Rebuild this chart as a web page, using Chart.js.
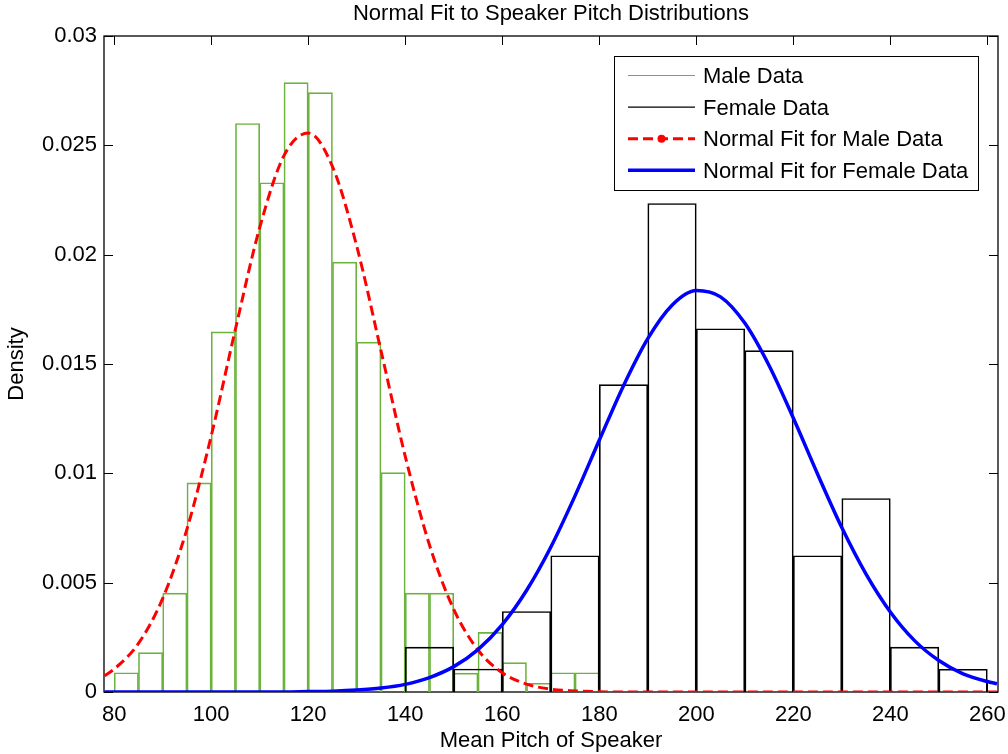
<!DOCTYPE html>
<html><head><meta charset="utf-8">
<script src="https://cdn.jsdelivr.net/npm/chart.js@4/dist/chart.umd.min.js"></script>
<style>html,body{margin:0;padding:0;background:#fff}#wrap{width:1008px;height:754px}</style>
</head><body><div id="wrap"><canvas id="c" width="1008" height="754"></canvas></div>
<script>
// ---- data ----
const maleBinStart = 80, maleBinWidth = 5;
const maleDensity = [0.00088, 0.0018, 0.00452, 0.00956, 0.01647, 0.0260, 0.02329, 0.02787, 0.02741, 0.01966,
                     0.0160, 0.01003, 0.00452, 0.00452, 0.00086, 0.00273, 0.00134, 0.0004, 0.00088, 0.00088];
const femaleBinStart = 140, femaleBinWidth = 10;
const femaleDensity = [0.00205, 0.00105, 0.00368, 0.00623, 0.01406, 0.02234, 0.01661, 0.01561, 0.00623, 0.00885, 0.00205, 0.00104];
const fitX = [78, 80, 85, 90, 95, 100, 105, 110, 115, 120, 125, 130, 135, 140, 145, 150, 155, 160, 165, 170,
              175, 180, 185, 190, 195, 200, 205, 210, 215, 220, 225, 230, 235, 240, 245, 250, 255, 260, 262];
const maleFit = [0.00074, 0.00105, 0.00222, 0.00428, 0.00745, 0.01171, 0.0166, 0.02124, 0.02453, 0.02556,
                 0.02403, 0.02039, 0.01561, 0.01078, 0.00672, 0.00378, 0.00192, 0.00088, 0.00036, 0.00013,
                 0.00005, 0.00001, 0, 0, 0, 0, 0, 0, 0, 0, 0, 0, 0, 0, 0, 0, 0, 0, 0];
const femaleFit = [0, 0, 0, 0, 0, 0, 0, 0, 0, 0.00002, 0.00004, 0.00009, 0.00018, 0.00035, 0.00066, 0.00116,
                   0.00194, 0.00308, 0.00464, 0.00662, 0.00897, 0.01151, 0.01401, 0.01616, 0.01769, 0.01836,
                   0.01807, 0.01687, 0.01493, 0.01253, 0.00997, 0.00752, 0.00539, 0.00366, 0.00235, 0.00144,
                   0.00083, 0.00048, 0.00038];
const xTickValues = [80, 100, 120, 140, 160, 180, 200, 220, 240, 260];
const xTickLabels = ['80', '100', '120', '140', '160', '180', '200', '220', '240', '260'];
const yTickValues = [0, 0.005, 0.01, 0.015, 0.02, 0.025, 0.03];
const yTickLabels = ['0', '0.005', '0.01', '0.015', '0.02', '0.025', '0.03'];
const seriesLabels = ['Male Data', 'Female Data', 'Normal Fit for Male Data', 'Normal Fit for Female Data'];
const titleText = 'Normal Fit to Speaker Pitch Distributions';
const xTitle = 'Mean Pitch of Speaker';
const yTitle = 'Density';

const FONT = '"Liberation Sans", Arial, sans-serif';
const FS = 22;

const binsToPoints = (start, w, vals) => vals.map((v, i) => ({x: start + i * w + w / 2, y: v}));
const fitPoints = vals => vals.map((v, i) => ({x: fitX[i], y: v}));

// bar width = one bin, measured through the x scale
const histWidth = {
  id: 'histWidth',
  afterLayout(chart) {
    const xs = chart.scales.x;
    chart.data.datasets.forEach(ds => {
      if (ds.type === 'bar') {
        ds.barThickness = Math.abs(xs.getPixelForValue(ds.binStart + ds.binWidth) - xs.getPixelForValue(ds.binStart));
      }
    });
  }
};

// MATLAB-style box with inward ticks
const axesBox = {
  id: 'axesBox',
  beforeDatasetsDraw(chart) {
    const {ctx, chartArea: ca, scales: {x, y}} = chart;
    ctx.save();
    ctx.strokeStyle = '#000';
    ctx.lineWidth = 1.3;
    ctx.strokeRect(ca.left, ca.top, ca.right - ca.left, ca.bottom - ca.top);
    ctx.lineWidth = 1;
    const L = 9;
    ctx.beginPath();
    x.ticks.forEach(t => {
      const px = Math.round(x.getPixelForValue(t.value)) + 0.5;
      ctx.moveTo(px, ca.bottom); ctx.lineTo(px, ca.bottom - L);
      ctx.moveTo(px, ca.top); ctx.lineTo(px, ca.top + L);
    });
    y.ticks.forEach(t => {
      const py = Math.round(y.getPixelForValue(t.value)) + 0.5;
      ctx.moveTo(ca.left, py); ctx.lineTo(ca.left + L, py);
      ctx.moveTo(ca.right, py); ctx.lineTo(ca.right - L, py);
    });
    ctx.stroke();
    ctx.restore();
  }
};

const boxLegend = {
  id: 'boxLegend',
  afterDraw(chart) {
    const {ctx, chartArea: ca} = chart;
    const w = 364, h = 134;
    const left = ca.right - 20 - w, top = ca.top + 20;
    ctx.save();
    ctx.fillStyle = '#fff';
    ctx.fillRect(left, top, w, h);
    ctx.strokeStyle = '#000';
    ctx.lineWidth = 1;
    ctx.strokeRect(left + 0.5, top + 0.5, w, h);
    ctx.font = FS + 'px ' + FONT;
    ctx.textBaseline = 'middle';
    chart.data.datasets.forEach((ds, i) => {
      const yy = top + 19.5 + i * 31.6;
      ctx.beginPath();
      ctx.strokeStyle = ds.borderColor;
      ctx.lineWidth = ds.type === 'bar' ? 1.2 : ds.borderWidth;
      ctx.setLineDash(ds.borderDash || []);
      ctx.moveTo(left + 14, yy);
      ctx.lineTo(left + 81, yy);
      ctx.stroke();
      ctx.setLineDash([]);
      if (ds.legendDot) {
        ctx.beginPath();
        ctx.fillStyle = ds.borderColor;
        ctx.arc(left + 47.5, yy, 4, 0, Math.PI * 2);
        ctx.fill();
      }
      ctx.fillStyle = '#000';
      ctx.fillText(ds.label, left + 89, yy + 1.5);
    });
    ctx.restore();
  }
};

new Chart(document.getElementById('c'), {
  type: 'line',
  data: {
    datasets: [
      {type: 'bar', label: seriesLabels[0], data: binsToPoints(maleBinStart, maleBinWidth, maleDensity),
       binStart: maleBinStart, binWidth: maleBinWidth, grouped: false, order: 4,
       backgroundColor: 'rgba(0,0,0,0)', borderColor: '#6cb33e', borderWidth: {top: 1, left: 1, right: 1, bottom: 0},
       borderSkipped: false, barPercentage: 1, categoryPercentage: 1},
      {type: 'bar', label: seriesLabels[1], data: binsToPoints(femaleBinStart, femaleBinWidth, femaleDensity),
       binStart: femaleBinStart, binWidth: femaleBinWidth, grouped: false, order: 3,
       backgroundColor: 'rgba(0,0,0,0)', borderColor: '#000', borderWidth: {top: 1, left: 1, right: 1, bottom: 0},
       borderSkipped: false, barPercentage: 1, categoryPercentage: 1},
      {type: 'line', label: seriesLabels[2], data: fitPoints(maleFit), order: 2, legendDot: true,
       borderColor: '#ff0000', borderWidth: 3, borderDash: [10, 5], pointRadius: 0, fill: false,
       cubicInterpolationMode: 'monotone'},
      {type: 'line', label: seriesLabels[3], data: fitPoints(femaleFit), order: 1,
       borderColor: '#0000ff', borderWidth: 3.5, pointRadius: 0, fill: false,
       cubicInterpolationMode: 'monotone'}
    ]
  },
  options: {
    responsive: false,
    animation: false,
    devicePixelRatio: 1,
    layout: {padding: {left: 0, right: 10, top: 0, bottom: 0}},
    plugins: {
      legend: {display: false},
      tooltip: {enabled: false},
      title: {display: true, text: titleText, fullSize: false, color: '#000',
              font: {family: FONT, size: FS, weight: 'normal'}, padding: {top: 1, bottom: 8.6}}
    },
    scales: {
      x: {type: 'linear', min: 77.9, max: 262.2, offset: false,
          grid: {display: false, drawTicks: false, offset: false}, border: {display: false},
          afterBuildTicks: s => { s.ticks = xTickValues.map(v => ({value: v})); },
          ticks: {color: '#000', font: {family: FONT, size: FS}, padding: 10, maxRotation: 0, autoSkip: false,
                  callback: (v, i) => xTickLabels[i]},
          title: {display: true, text: xTitle, color: '#000', font: {family: FONT, size: FS}, padding: {top: 0, bottom: 0}},
          afterFit: s => { s.height = 62; s.paddingLeft = 0; s.paddingRight = 0; }},
      y: {type: 'linear', min: 0, max: 0.03,
          grid: {display: false, drawTicks: false}, border: {display: false},
          afterBuildTicks: s => { s.ticks = yTickValues.map(v => ({value: v})); },
          ticks: {color: '#000', font: {family: FONT, size: FS}, padding: 7, autoSkip: false,
                  callback: (v, i) => yTickLabels[i]},
          title: {display: true, text: yTitle, color: '#000', font: {family: FONT, size: FS}, padding: {top: 4, bottom: 0}},
          afterFit: s => { s.width = 104; s.paddingTop = 0; s.paddingBottom = 0; }}
    }
  },
  plugins: [histWidth, axesBox, boxLegend]
});
</script>
</body></html>
